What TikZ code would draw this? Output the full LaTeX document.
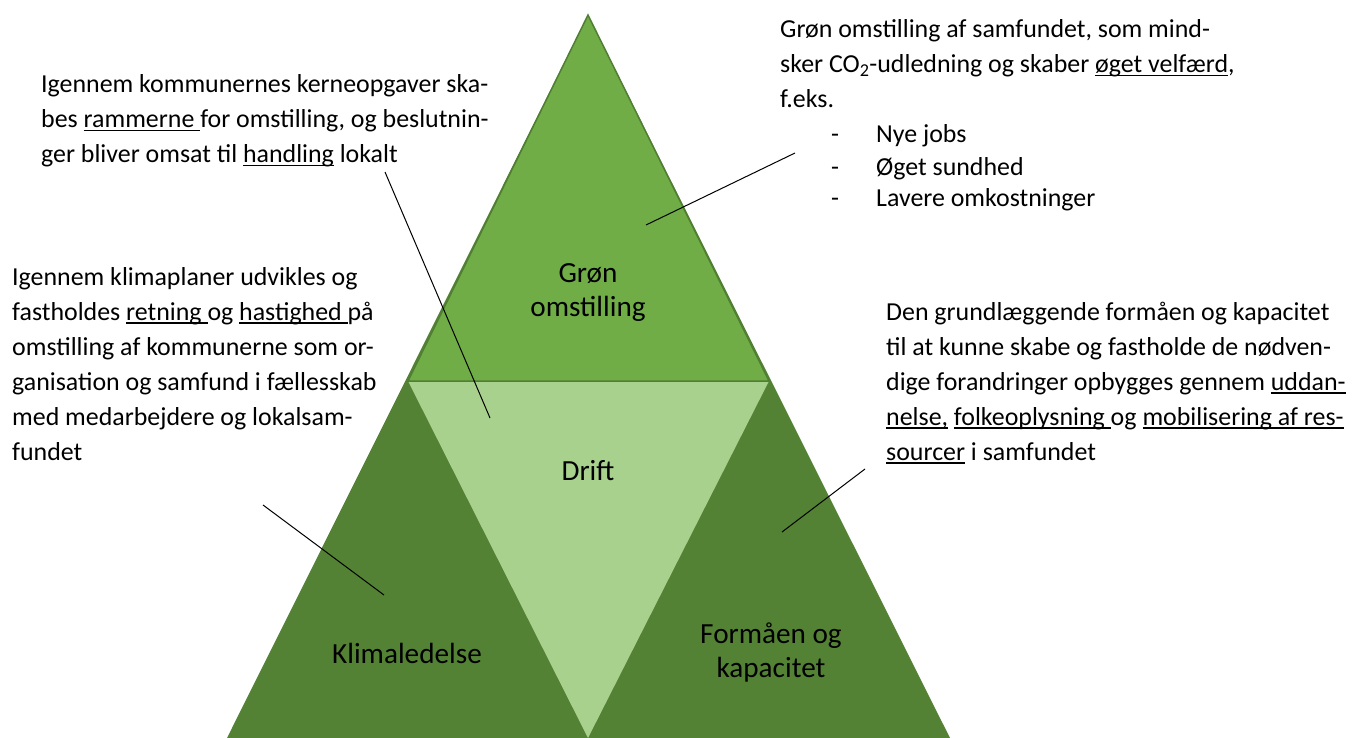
\documentclass[tikz,border=0pt]{standalone}
\usepackage{fontspec}
\setmainfont{Carlito}
\definecolor{topgreen}{HTML}{70AD47}
\definecolor{topline}{HTML}{507E32}
\definecolor{midgreen}{HTML}{A9D18E}
\definecolor{lowgreen}{HTML}{548235}
\newcommand{\ulx}[1]{\setbox0=\hbox{#1}\rlap{\rule[-3.5pt]{\wd0}{1.6pt}}\box0\relax}

\begin{document}
\begin{tikzpicture}[x=1pt,y=-1pt,
        body text/.style={anchor=base west,align=left,inner sep=0pt,
            font=\fontsize{25.9}{35}\selectfont},
        label text/.style={anchor=base,align=center,inner sep=0pt,
            font=\fontsize{29.2}{34}\selectfont},
        every edge/.style={draw,black,line width=1pt}]

    \useasboundingbox (0,0) rectangle (1362,738);

    % Triangles
    \coordinate (apex) at (588,15);
    \coordinate (left) at (227,738);
    \coordinate (right) at (950,738);
    \coordinate (bottom) at (588,738);
    \coordinate (midleft) at (408,381);
    \coordinate (midright) at (769,381);
    \fill[lowgreen] (apex) -- (right) -- (left) -- cycle;
    \fill[midgreen] (midleft) -- (midright) -- (bottom) -- cycle;
    \filldraw[fill=topgreen,draw=topline,line width=1.5pt]
        (apex) -- (midright) -- (midleft) -- cycle;

    % Labels (anchored at the baseline of the last line)
    \node[label text] (gron) at (588,316) {Grøn\\omstilling};
    \node[label text] (drift) at (588,480) {Drift};
    \node[label text] (klima) at (407,663) {Klimaledelse};
    \node[label text] (formaaen) at (771,677) {Formåen og\\kapacitet};

    % Texts
    \node[body text] (kerne) at (41,163)
        {Igennem kommunernes kerneopgaver ska-\\
         bes \ulx{rammerne\ }for omstilling, og beslutnin-\\
         ger bliver omsat til \ulx{handling} lokalt};
    \node[body text] (samfund) at (780,207)
        {Grøn omstilling af samfundet, som mind-\\
         sker CO\textsubscript{2}-udledning og skaber \ulx{øget velfærd},\\
         f.eks.\\
         \hspace*{51pt}\makebox[45pt][l]{-}Nye jobs\\[-3pt]
         \hspace*{51pt}\makebox[45pt][l]{-}Øget sundhed\\[-3pt]
         \hspace*{51pt}\makebox[45pt][l]{-}Lavere omkostninger};
    \node[body text] (klimaplan) at (12,460)
        {Igennem klimaplaner udvikles og\\
         fastholdes \ulx{retning\ }og \ulx{hastighed\ }på\\
         omstilling af kommunerne som or-\\
         ganisation og samfund i fællesskab\\
         med medarbejdere og lokalsam-\\
         fundet};
    \node[body text] (kapacitet) at (886,460)
        {Den grundlæggende formåen og kapacitet\\
         til at kunne skabe og fastholde de nødven-\\
         dige forandringer opbygges gennem \ulx{uddan-}\\
         \ulx{nelse,} \ulx{folkeoplysning\ }og \ulx{mobilisering af res-}\\
         \ulx{sourcer} i samfundet};

    % Pointer ends
    \coordinate (kerne end) at (385,172);
    \coordinate (drift end) at (490,418);
    \coordinate (samfund end) at (795,153);
    \coordinate (gron end) at (646,225);
    \coordinate (klimaplan end) at (263,505);
    \coordinate (klima end) at (384,595);
    \coordinate (kapacitet end) at (865,469);
    \coordinate (formaaen end) at (782,532);

    % Lines
    \path
    (kerne end) edge (drift end)
    (samfund end) edge (gron end)
    (klimaplan end) edge (klima end)
    (kapacitet end) edge (formaaen end);

\end{tikzpicture}
\end{document}
